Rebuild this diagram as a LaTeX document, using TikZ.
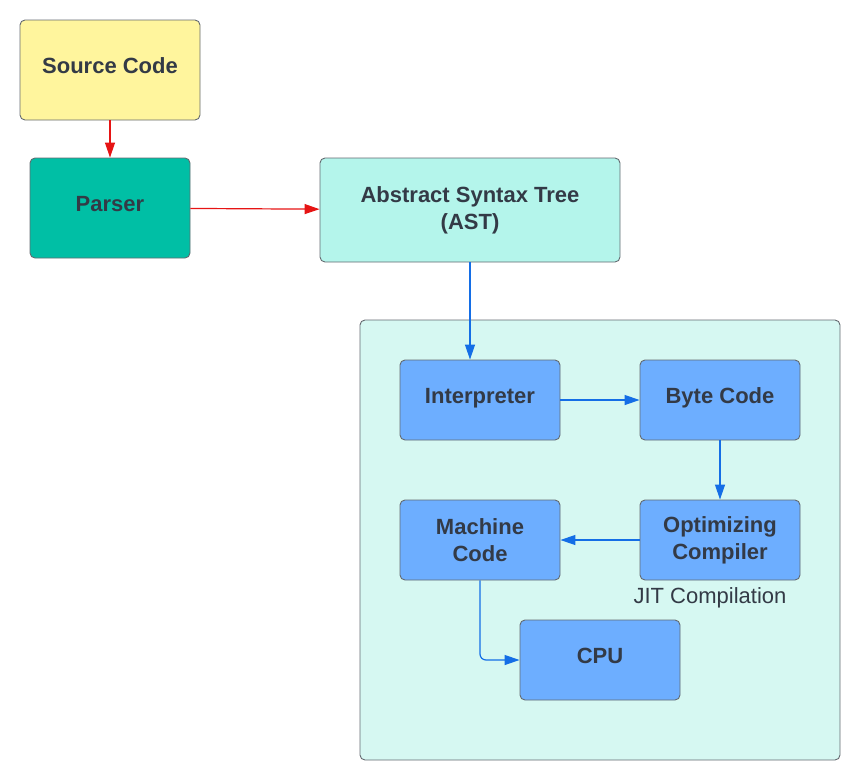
\documentclass[tikz,border=0pt]{standalone}
\usepackage{fontspec}
\setmainfont{Liberation Sans}
\usetikzlibrary{arrows.meta}

\definecolor{srcfill}{RGB}{255,245,157}
\definecolor{parsefill}{RGB}{0,191,165}
\definecolor{astfill}{RGB}{180,245,235}
\definecolor{jitfill}{RGB}{214,248,242}
\definecolor{stagefill}{RGB}{109,174,255}
\definecolor{edgegray}{RGB}{100,106,112}
\definecolor{textgray}{RGB}{51,58,70}
\definecolor{redline}{RGB}{230,20,20}
\definecolor{blueline}{RGB}{20,110,230}

\tikzset{
    box/.style={draw=edgegray, line width=0.9pt, rounded corners=5pt,
        minimum width=#1, align=center, text=textgray,
        font=\fontsize{22}{27}\selectfont\bfseries},
    box/.default=160pt,
    oneline/.style={text height=16pt, text depth=9pt},
    redarrow/.style={draw=redline, line width=1.2pt,
        -{Triangle[length=15pt,width=10pt]}},
    bluearrow/.style={draw=blueline, line width=1.2pt,
        -{Triangle[length=15pt,width=10pt]}},
}

\begin{document}
\begin{tikzpicture}[x=1pt,y=-1pt]
    \useasboundingbox (0,0) rectangle (860,780);

    % front end
    \node[box=180pt, oneline, fill=srcfill, minimum height=100pt] (source) at (110,70) {Source Code};
    \node[box, oneline, fill=parsefill, minimum height=100pt] (parser) at (110,208) {Parser};
    \node[box=300pt, fill=astfill, minimum height=104pt] (ast) at (470,210) {Abstract Syntax Tree\\(AST)};

    % engine container
    \node[draw=edgegray, line width=0.9pt, rounded corners=5pt, fill=jitfill,
        minimum width=480pt, minimum height=440pt] (engine) at (600,540) {};

    \node[box, oneline, fill=stagefill, minimum height=80pt] (interp) at (480,400) {Interpreter};
    \node[box, oneline, fill=stagefill, minimum height=80pt] (bytecode) at (720,400) {Byte Code};
    \node[box, fill=stagefill, minimum height=80pt] (optim) at (720,540) {Optimizing\\Compiler};
    \node[box, fill=stagefill, minimum height=80pt] (machine) at (480,540) {Machine\\Code};
    \node[box, oneline, fill=stagefill, minimum height=80pt] (cpu) at (600,660) {CPU};
    \node[text=textgray, font=\fontsize{22}{26}\selectfont] (jitlabel) at (710,598) {JIT Compilation};

    % connectors
    \draw[redarrow] (source) -- (parser);
    \draw[redarrow] (parser) -- (ast);
    \draw[bluearrow] (ast.south) -- (ast.south |- interp.north);
    \draw[bluearrow] (interp) -- (bytecode);
    \draw[bluearrow] (bytecode) -- (optim);
    \draw[bluearrow] (optim) -- (machine);
    \draw[bluearrow, rounded corners=6pt] (machine.south) |- (cpu.west);
\end{tikzpicture}
\end{document}
